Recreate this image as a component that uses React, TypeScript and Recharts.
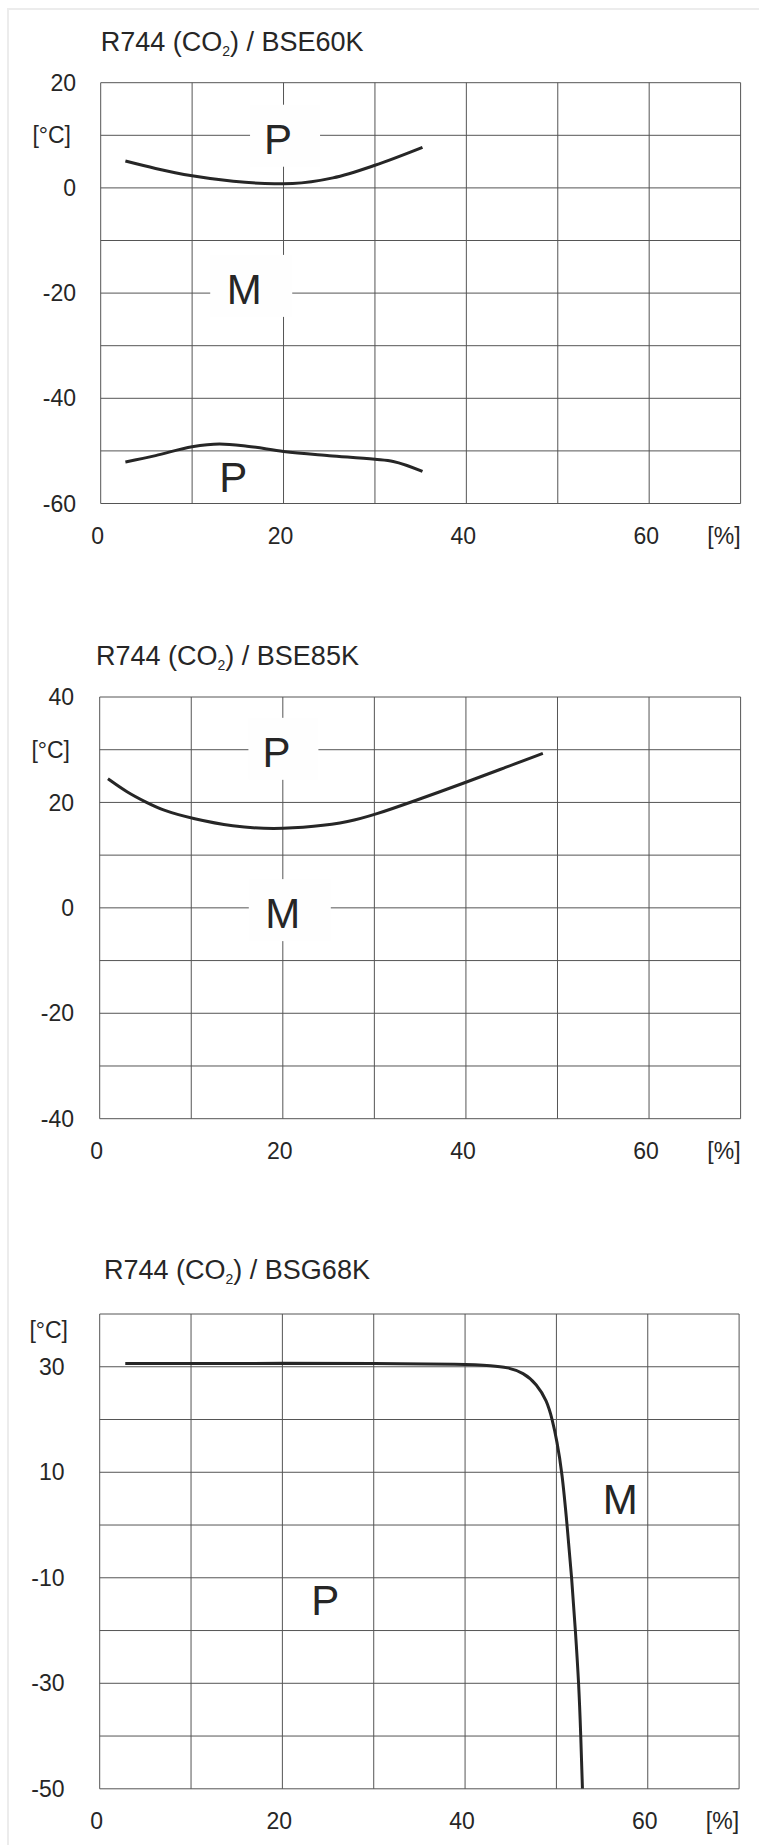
import React from "react";
import { LineChart, Line, XAxis, YAxis, CartesianGrid, ReferenceDot } from "recharts";

const FONT = '"Liberation Sans", Arial, Helvetica, sans-serif';
const INK = "#262626";
const GRID = "#555555";

type Pt = { x: number; y: number };
type Mark = { text: string; x: number; y: number };

const pts = (rows: number[][]): Pt[] => rows.map(([x, y]) => ({ x, y }));

// x axis, the same on all three charts
const xTicks = [0, 10, 20, 30, 40, 50, 60, 70];
const xLabels = ["0", "", "20", "", "40", "", "60", "[%]"];

// R744 / BSE60K
const bse60Ticks = [20, 10, 0, -10, -20, -30, -40, -50, -60];
const bse60Labels = ["20", "[°C]", "0", "", "-20", "", "-40", "", "-60"];
const bse60Upper = pts([
  [2.7, 5.1], [6, 3.7], [10, 2.3], [14.5, 1.25], [19, 0.8], [21, 0.85],
  [25.4, 1.9], [30, 4.3], [35.2, 7.7],
]);
const bse60Lower = pts([
  [2.7, -52.1], [6, -50.9], [10, -49.2], [13, -48.7], [16, -49.1], [20, -50.1],
  [25, -50.9], [30, -51.6], [32, -52.0], [35.2, -53.9],
]);
const bse60Plated: Mark[] = [
  { text: "P", x: 19.4, y: 9.35 },
  { text: "M", x: 15.7, y: -19.2 },
];
const bse60Plain: Mark[] = [{ text: "P", x: 14.5, y: -54.9 }];

// R744 / BSE85K
const bse85Ticks = [40, 30, 20, 10, 0, -10, -20, -30, -40];
const bse85Labels = ["40", "[°C]", "20", "", "0", "", "-20", "", "-40"];
const bse85Curve = pts([
  [0.9, 24.5], [3, 21.9], [5, 20.1], [7, 18.4], [10.2, 16.9], [14.5, 15.4],
  [19, 14.9], [23.5, 15.4], [27.2, 16.3], [30.1, 17.7], [34.1, 20.1],
  [40, 23.8], [44.1, 26.5], [48.4, 29.3],
]);
const bse85Plated: Mark[] = [
  { text: "P", x: 19.3, y: 29.6 },
  { text: "M", x: 20.0, y: -1.0 },
];

// R744 / BSG68K
const bsg68Ticks = [40, 30, 20, 10, 0, -10, -20, -30, -40, -50];
const bsg68Labels = ["[°C]", "30", "", "10", "", "-10", "", "-30", "", "-50"];
const bsg68Curve = pts([
  [2.8, 30.6], [10, 30.6], [20, 30.65], [30, 30.65], [40, 30.5], [43, 30.2],
  [44.6, 29.9], [46.4, 28.9], [47.85, 26.7], [48.95, 23.6], [49.55, 20],
  [50.05, 16], [50.62, 10], [51.17, 0], [51.68, -10], [52.08, -20],
  [52.45, -30], [52.67, -40], [52.85, -50],
]);
const bsg68Plain: Mark[] = [
  { text: "M", x: 57.0, y: 5.0 },
  { text: "P", x: 24.7, y: -14.3 },
];

type ChartProps = {
  model: string;
  top: number;
  height: number;
  plotTop: number;
  plotBottom: number;
  plotLeft: number;
  plotRight: number;
  titleX: number;
  titleY: number;
  yTicks: number[];
  yLabels: string[];
  yLabelRight: number;
  unitRight: number;
  unitDy: number;
  lines: Pt[][];
  curve: "monotone" | "basis";
  plated?: Mark[];
  plain?: Mark[];
};

function letter(m: Mark, plate: boolean) {
  return (props: any) => {
    const { cx, cy } = props;
    const w = m.text === "M" ? 82 : 70;
    return (
      <g>
        {plate && (
          <rect x={cx + 7 - w / 2} y={cy - 34} width={w} height={62} fill="#fefefe" />
        )}
        <text
          x={cx}
          y={cy + 15}
          textAnchor="middle"
          fontFamily={FONT}
          fontSize={42}
          fill={INK}
        >
          {m.text}
        </text>
      </g>
    );
  };
}

function MiscChart(p: ChartProps) {
  const yTick = (t: any) => {
    const text = p.yLabels[p.yTicks.indexOf(t.payload.value)] ?? "";
    if (!text) return <g />;
    const unit = text === "[°C]";
    return (
      <text
        x={unit ? p.unitRight : p.yLabelRight}
        y={t.y + (unit ? p.unitDy : 0)}
        dy="0.355em"
        textAnchor="end"
        fontFamily={FONT}
        fontSize={23}
        fill={INK}
      >
        {text}
      </text>
    );
  };

  const xTick = (t: any) => {
    const text = xLabels[xTicks.indexOf(t.payload.value)] ?? "";
    if (!text) return <g />;
    const unit = text === "[%]";
    return (
      <text
        x={unit ? t.x : t.x - 3}
        y={p.plotBottom + 32}
        dy="0.355em"
        textAnchor={unit ? "end" : "middle"}
        fontFamily={FONT}
        fontSize={23}
        fill={INK}
      >
        {text}
      </text>
    );
  };

  const yMax = p.yTicks[0];
  const yMin = p.yTicks[p.yTicks.length - 1];

  return (
    <div style={{ position: "absolute", left: 0, top: p.top, width: 759, height: p.height }}>
      <LineChart
        width={759}
        height={p.height}
        margin={{ top: p.plotTop, right: 759 - p.plotRight, bottom: 0, left: 0 }}
      >
        <CartesianGrid stroke={GRID} strokeWidth={1} />
        <XAxis
          dataKey="x"
          type="number"
          domain={[0, 70]}
          ticks={xTicks}
          interval={0}
          height={p.height - p.plotBottom}
          axisLine={false}
          tickLine={false}
          tick={xTick}
          allowDataOverflow
        />
        <YAxis
          type="number"
          domain={[yMin, yMax]}
          ticks={p.yTicks}
          interval={0}
          width={p.plotLeft}
          axisLine={false}
          tickLine={false}
          tick={yTick}
          allowDataOverflow
        />
        {(p.plated ?? []).map((m, i) => (
          <ReferenceDot
            key={"pl" + i}
            x={m.x}
            y={m.y}
            r={0}
            ifOverflow="visible"
            shape={letter(m, true)}
          />
        ))}
        {(p.plain ?? []).map((m, i) => (
          <ReferenceDot
            key={"pn" + i}
            x={m.x}
            y={m.y}
            r={0}
            ifOverflow="visible"
            shape={letter(m, false)}
          />
        ))}
        {p.lines.map((d, i) => (
          <Line
            key={i}
            data={d}
            dataKey="y"
            type={p.curve}
            stroke={INK}
            strokeWidth={3}
            dot={false}
            activeDot={false}
            isAnimationActive={false}
          />
        ))}
      </LineChart>
      <svg
        width={759}
        height={80}
        style={{ position: "absolute", left: 0, top: 0, pointerEvents: "none" }}
      >
        <text x={p.titleX} y={p.titleY} fontFamily={FONT} fontSize={27} fill={INK}>
          R744 (CO
          <tspan fontSize={14} dy={5}>2</tspan>
          <tspan dy={-5}>) / {p.model}</tspan>
        </text>
      </svg>
    </div>
  );
}

export default function App() {
  return (
    <div
      style={{
        position: "absolute",
        left: 0,
        top: 0,
        width: 759,
        height: 1845,
        overflow: "hidden",
        background: "#fff",
      }}
    >
      <div
        style={{
          position: "absolute",
          left: 7,
          top: 8,
          width: 752,
          height: 1837,
          borderTop: "2px solid #ececec",
          borderLeft: "2px solid #ececec",
          boxSizing: "border-box",
        }}
      />
      <MiscChart
        model="BSE60K"
        top={0}
        height={560}
        plotTop={82.7}
        plotBottom={503.5}
        plotLeft={100.7}
        plotRight={740.6}
        titleX={100.7}
        titleY={50.7}
        yTicks={bse60Ticks}
        yLabels={bse60Labels}
        yLabelRight={76}
        unitRight={71}
        unitDy={0}
        lines={[bse60Upper, bse60Lower]}
        curve="monotone"
        plated={bse60Plated}
        plain={bse60Plain}
      />
      <MiscChart
        model="BSE85K"
        top={600}
        height={580}
        plotTop={97}
        plotBottom={518.7}
        plotLeft={99.7}
        plotRight={740.6}
        titleX={96}
        titleY={64.7}
        yTicks={bse85Ticks}
        yLabels={bse85Labels}
        yLabelRight={74}
        unitRight={70}
        unitDy={0}
        lines={[bse85Curve]}
        curve="basis"
        plated={bse85Plated}
      />
      <MiscChart
        model="BSG68K"
        top={1230}
        height={615}
        plotTop={84}
        plotBottom={558.8}
        plotLeft={99.7}
        plotRight={739.1}
        titleX={104}
        titleY={49}
        yTicks={bsg68Ticks}
        yLabels={bsg68Labels}
        yLabelRight={64.5}
        unitRight={68}
        unitDy={16}
        lines={[bsg68Curve]}
        curve="basis"
        plain={bsg68Plain}
      />
    </div>
  );
}
